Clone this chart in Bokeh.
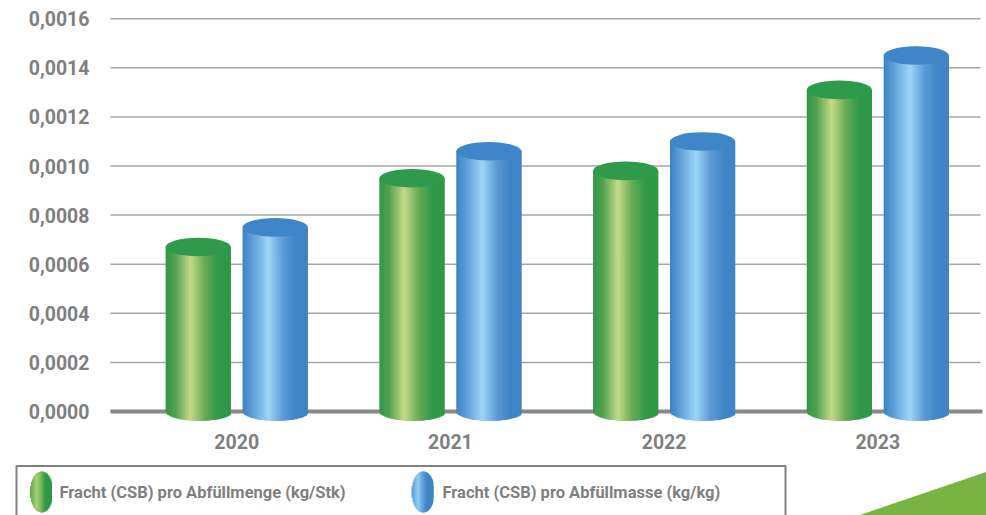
import numpy as np
from bokeh.plotting import figure
from bokeh.models import Range1d, ColumnDataSource
from bokeh.embed import file_html
from bokeh.resources import INLINE
from bokeh.core.properties import value

# ---- data -------------------------------------------------------------
years = ["2020", "2021", "2022", "2023"]
fracht_menge = [0.00067, 0.00095, 0.00098, 0.00131]   # kg/Stk
fracht_masse = [0.00075, 0.00106, 0.00110, 0.00145]   # kg/kg
series_names = ["Fracht (CSB) pro Abfüllmenge (kg/Stk)",
                "Fracht (CSB) pro Abfüllmasse (kg/kg)"]
y_ticks = [0.0, 0.0002, 0.0004, 0.0006, 0.0008, 0.0010, 0.0012, 0.0014, 0.0016]
y_tick_labels = ["0,0000", "0,0002", "0,0004", "0,0006", "0,0008",
                 "0,0010", "0,0012", "0,0014", "0,0016"]

FONT = "Roboto"
TEXT_GREY = "#7f7f7f"
W, H = 986, 515

# ---- scales: one category step = 213.7 px, 0.0002 = 49.1 px ------------
PX_X = 213.7
PX_Y = 0.0002 / 49.1
X0_PX = 236.2          # canvas x of the first category
Y0_PX = 411.0          # canvas y (from top) of the zero line

x_start = -X0_PX / PX_X
x_end = x_start + W / PX_X
y_end = Y0_PX * PX_Y
y_start = y_end - H * PX_Y


def sx(px):
    """canvas x pixel -> data x"""
    return x_start + px / PX_X


def sy(py):
    """canvas y pixel (from top) -> data y"""
    return y_end - py * PX_Y


# ---- colour ramps across a cylinder (t = 0 left edge .. 1 right edge) --
GREEN_STOPS = [(0.0, "#2f9848"), (0.15, "#52a14f"), (0.38, "#c5da88"),
               (0.60, "#6aaa56"), (0.80, "#319a4a"), (1.0, "#2e9848")]
BLUE_STOPS = [(0.0, "#3c83c6"), (0.15, "#5c9dd6"), (0.40, "#9dd6f6"),
              (0.62, "#5d9ad6"), (0.82, "#4086c7"), (1.0, "#3e84c6")]
GREEN_ICON = [(0.0, "#5aa84e"), (0.30, "#acd174"), (0.55, "#6aad55"),
              (0.68, "#2f9a4a"), (1.0, "#2e9848")]
BLUE_ICON = [(0.0, "#5b9dd8"), (0.30, "#90ccf1"), (0.55, "#5a9ad6"),
             (0.68, "#3e84c6"), (1.0, "#3d82c4")]


def ramp(stops, t):
    ts = [s[0] for s in stops]
    rgb = [tuple(int(c[i:i + 2], 16) for i in (1, 3, 5)) for _, c in stops]
    chans = [np.interp(t, ts, [c[ch] for c in rgb]) for ch in range(3)]
    return ["#%02x%02x%02x" % (int(round(r)), int(round(g)), int(round(b)))
            for r, g, b in zip(*chans)]


p = figure(width=W, height=H, output_backend="svg", toolbar_location=None,
           x_range=Range1d(x_start, x_end), y_range=Range1d(y_start, y_end),
           x_axis_type=None, y_axis_type=None, min_border=0,
           min_border_left=0, min_border_right=0, min_border_top=0,
           min_border_bottom=0)
p.outline_line_color = None
p.xgrid.grid_line_color = None
p.ygrid.grid_line_color = None
p.background_fill_color = "white"
p.border_fill_color = "white"

# horizontal gridlines and value labels
PLOT_L, PLOT_R = sx(110), sx(980)
p.segment(x0=[PLOT_L] * len(y_ticks), x1=[PLOT_R] * len(y_ticks),
          y0=y_ticks, y1=y_ticks, line_color="#a6a6a6", line_width=1.5)
p.text(x=[sx(89)] * len(y_ticks), y=y_ticks, text=y_tick_labels,
       text_font=value(FONT), text_font_style="bold", text_font_size="19.5px",
       text_color=TEXT_GREY, text_align="right", text_baseline="middle")

# zero line beneath the cylinders
p.segment(x0=[PLOT_L], x1=[sx(982)], y0=[0], y1=[0],
          line_color="#888888", line_width=4)

# category labels
cats = list(range(len(years)))
p.text(x=cats, y=[sy(441)] * len(years), text=years,
       text_font=value(FONT), text_font_style="bold", text_font_size="19.5px",
       text_color=TEXT_GREY, text_align="center", text_baseline="middle")

# ---- cylinders ---------------------------------------------------------
BAR_W = 0.305
OFFSET = 0.18
ELL_H = 18.6 * PX_Y          # full height of the elliptical caps
N_STRIPS = 44
strip_u = (np.arange(N_STRIPS) + 0.5) / N_STRIPS * 2 - 1


def cylinders(vals, shift, stops, cap_color):
    left, right, bottom, top, color = [], [], [], [], []
    cols = ramp(stops, (strip_u + 1) / 2)
    step = BAR_W / N_STRIPS
    for i, v in enumerate(vals):
        cx = cats[i] + shift
        for k, u in enumerate(strip_u):
            l = cx - BAR_W / 2 + k * step
            left.append(l)
            right.append(min(l + 2.5 * step, cx + BAR_W / 2))
            bottom.append(-ELL_H / 2 * np.sqrt(max(0.0, 1 - u * u)))
            top.append(v)
            color.append(cols[k])
    src = ColumnDataSource(dict(left=left, right=right, bottom=bottom,
                                top=top, color=color))
    p.quad(left="left", right="right", bottom="bottom", top="top", source=src,
           fill_color="color", line_color=None)
    caps = ColumnDataSource(dict(x=[c + shift for c in cats], y=vals))
    p.ellipse(x="x", y="y", width=BAR_W, height=ELL_H, source=caps,
              fill_color=cap_color, line_color=None)


cylinders(fracht_menge, -OFFSET, GREEN_STOPS, "#2f9a4b")
cylinders(fracht_masse, OFFSET, BLUE_STOPS, "#3f86c8")

# ---- legend ------------------------------------------------------------
# decorative green corner
p.patch([sx(855), sx(990), sx(990)], [sy(516), sy(470), sy(516)],
        fill_color="#79b443", line_color=None)

# legend frame
p.multi_line([[sx(16), sx(16), sx(785), sx(785)]],
             [[sy(520), sy(465.5), sy(465.5), sy(520)]],
             line_color="#808080", line_width=2)

N_ICON = 24
icon_u = (np.arange(N_ICON) + 0.5) / N_ICON * 2 - 1


def icon(cx_px, stops):
    w_px, h_px, cy_px = 22.0, 41.0, 491.5
    cols = ramp(stops, (icon_u + 1) / 2)
    step = w_px / N_ICON
    l = cx_px - w_px / 2 + np.arange(N_ICON) * step
    r = np.minimum(l + 2.5 * step, cx_px + w_px / 2)
    half = h_px / 2 * np.sqrt(1 - icon_u ** 2)
    p.quad(left=sx(l), right=sx(r), top=sy(cy_px - half),
           bottom=sy(cy_px + half), fill_color=cols, line_color=None)


icon(40.5, GREEN_ICON)
icon(422.0, BLUE_ICON)

p.text(x=[sx(59), sx(442)], y=[sy(492)] * 2, text=series_names,
       text_font=value(FONT), text_font_style="bold",
       text_font_size="16.5px", text_color=TEXT_GREY,
       text_baseline="middle", text_align="left")

open("out.html", "w").write(file_html(p, INLINE))
